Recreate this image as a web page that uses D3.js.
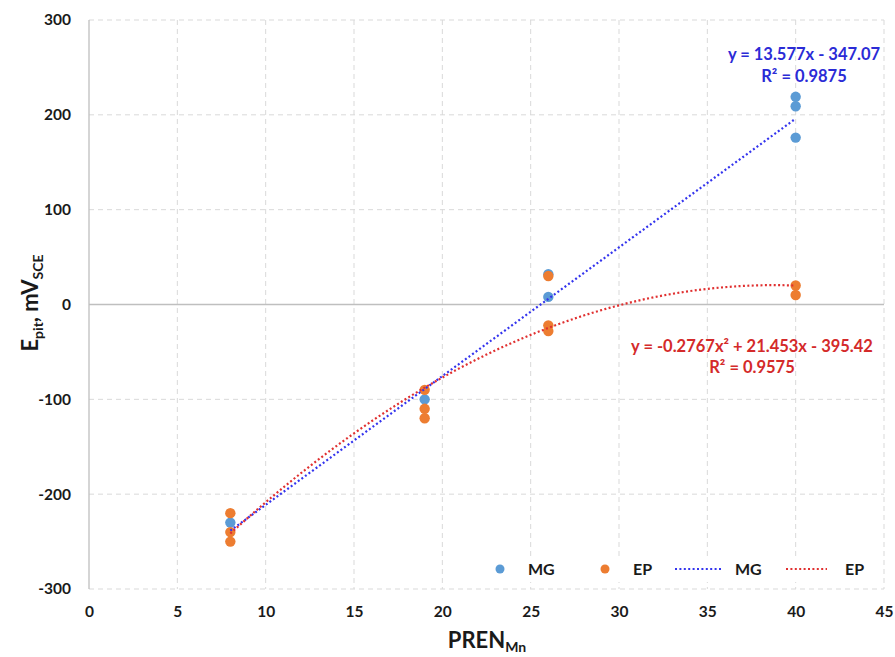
<!DOCTYPE html>
<html><head><meta charset="utf-8">
<script src="https://cdn.jsdelivr.net/npm/d3@7"></script>
<style>
body{margin:0;background:#fff;}
text{font-family:Lato,"Open Sans",sans-serif;font-weight:bold;}
</style></head>
<body><svg id="c" width="895" height="657"></svg>
<script>
const xTicks = [0,5,10,15,20,25,30,35,40,45];
const yTicks = [-300,-200,-100,0,100,200,300];
const mgX = [8, 19, 26, 26, 40, 40, 40];
const mgY = [-230, -100, 32, 8, 219, 209, 176];
const epX = [8, 8, 8, 19, 19, 19, 26, 26, 26, 40, 40];
const epY = [-220, -240, -250, -90, -110, -120, 30, -22, -28, 20, 10];
const mgFit = [-347.07, 13.577];          // intercept, slope
const epFit = [-395.42, 21.453, -0.2767]; // c0, c1, c2
const fitRange = [8, 40];
const mgEq = ["y = 13.577x - 347.07", "R² = 0.9875"];
const epEq = ["y = -0.2767x² + 21.453x - 395.42", "R² = 0.9575"];
const legendLabels = ["MG", "EP", "MG", "EP"];

const C = {mg:"#5b9bd5", ep:"#ed7d31", mgLine:"#3434ee", epLine:"#e03030", mgTxt:"#2b2bd6", epTxt:"#d42a2a", grid:"#d9d9d9", axis:"#bfbfbf", txt:"#1a1a1a"};

const svg = d3.select("#c");
const L=89, R=884, T=20, B=589;
const x = d3.scaleLinear().domain([0,45]).range([L,R]);
const y = d3.scaleLinear().domain([-300,300]).range([B,T]);
const fmt = d => String(d);

// grid
const g = svg.append("g");
g.selectAll(".gx").data(xTicks.filter(d=>d>0)).join("line")
  .attr("x1",d=>x(d)).attr("x2",d=>x(d)).attr("y1",T).attr("y2",B)
  .attr("stroke",C.grid).attr("stroke-dasharray","5,4").attr("stroke-width",1);
g.selectAll(".gy").data(yTicks.filter(d=>d!==0)).join("line")
  .attr("x1",L).attr("x2",R).attr("y1",d=>y(d)).attr("y2",d=>y(d))
  .attr("stroke",C.grid).attr("stroke-dasharray","5,4").attr("stroke-width",1);
// axes lines
svg.append("line").attr("x1",L).attr("x2",L).attr("y1",T).attr("y2",B).attr("stroke",C.axis).attr("stroke-width",1.3);
svg.append("line").attr("x1",L).attr("x2",R).attr("y1",y(0)).attr("y2",y(0)).attr("stroke",C.axis).attr("stroke-width",1.3);

// tick labels via axes
const ax = svg.append("g").attr("transform",`translate(0,${B+14})`)
  .call(d3.axisBottom(x).tickValues(xTicks).tickSize(0).tickFormat(fmt));
ax.select(".domain").remove();
ax.selectAll("text").attr("font-size",15.5).attr("fill",C.txt).style("font-family","Lato").style("font-weight","bold");
const ay = svg.append("g").attr("transform",`translate(${L-15},0)`)
  .call(d3.axisLeft(y).tickValues(yTicks).tickSize(0).tickFormat(fmt));
ay.select(".domain").remove();
ay.selectAll("text").attr("font-size",15.5).attr("fill",C.txt).style("font-family","Lato").style("font-weight","bold");

// points
svg.append("g").selectAll("circle").data(mgX.map((v,i)=>[v,mgY[i]])).join("circle")
  .attr("cx",d=>x(d[0])).attr("cy",d=>y(d[1])).attr("r",5.2).attr("fill",C.mg);
svg.append("g").selectAll("circle").data(epX.map((v,i)=>[v,epY[i]])).join("circle")
  .attr("cx",d=>x(d[0])).attr("cy",d=>y(d[1])).attr("r",5.2).attr("fill",C.ep);

// trendlines
const xs = d3.range(fitRange[0], fitRange[1]+0.001, 0.25);
const line = d3.line().x(d=>x(d[0])).y(d=>y(d[1]));
svg.append("path").datum(xs.map(v=>[v, mgFit[0]+mgFit[1]*v]))
  .attr("d",line).attr("fill","none").attr("stroke",C.mgLine).attr("stroke-width",2.2).attr("stroke-dasharray","2,2.4");
svg.append("path").datum(xs.map(v=>[v, epFit[0]+epFit[1]*v+epFit[2]*v*v]))
  .attr("d",line).attr("fill","none").attr("stroke",C.epLine).attr("stroke-width",2.2).attr("stroke-dasharray","2,2.4");

// equations
const eq1 = svg.append("text").attr("text-anchor","middle").attr("fill",C.mgTxt).attr("font-size",16.5);
eq1.append("tspan").attr("x",804).attr("y",60).text(mgEq[0]);
eq1.append("tspan").attr("x",804).attr("y",82).text(mgEq[1]);
const eq2 = svg.append("text").attr("text-anchor","middle").attr("fill",C.epTxt).attr("font-size",16.5);
eq2.append("tspan").attr("x",752).attr("y",352).text(epEq[0]);
eq2.append("tspan").attr("x",752).attr("y",373).text(epEq[1]);

// legend
const lg = svg.append("g");
lg.append("rect").attr("x",488).attr("y",557).attr("width",384).attr("height",25).attr("fill","#fff");
const ly = 569;
lg.append("circle").attr("cx",500).attr("cy",ly).attr("r",4.5).attr("fill",C.mg);
lg.append("circle").attr("cx",605).attr("cy",ly).attr("r",4.5).attr("fill",C.ep);
lg.append("line").attr("x1",675).attr("x2",722).attr("y1",ly).attr("y2",ly).attr("stroke",C.mgLine).attr("stroke-width",2.2).attr("stroke-dasharray","2,2.4");
lg.append("line").attr("x1",786).attr("x2",827).attr("y1",ly).attr("y2",ly).attr("stroke",C.epLine).attr("stroke-width",2.2).attr("stroke-dasharray","2,2.4");
[528,633,735,845].forEach((px,i)=>{
  lg.append("text").attr("x",px).attr("y",ly+6).attr("font-size",16).attr("fill",C.txt).text(legendLabels[i]);
});

// axis titles
const xt = svg.append("text").attr("x",487).attr("y",648).attr("text-anchor","middle").attr("font-size",22).attr("fill",C.txt);
xt.append("tspan").text("PREN");
xt.append("tspan").attr("font-size",14).attr("dy",4).text("Mn");
const yt = svg.append("text").attr("transform","translate(38,303) rotate(-90)").attr("text-anchor","middle").attr("font-size",22).attr("fill",C.txt);
yt.append("tspan").text("E");
yt.append("tspan").attr("font-size",14).attr("dy",5).text("pit");
yt.append("tspan").attr("dy",-5).text(", mV");
yt.append("tspan").attr("font-size",14).attr("dy",5).text("SCE");
</script></body></html>
